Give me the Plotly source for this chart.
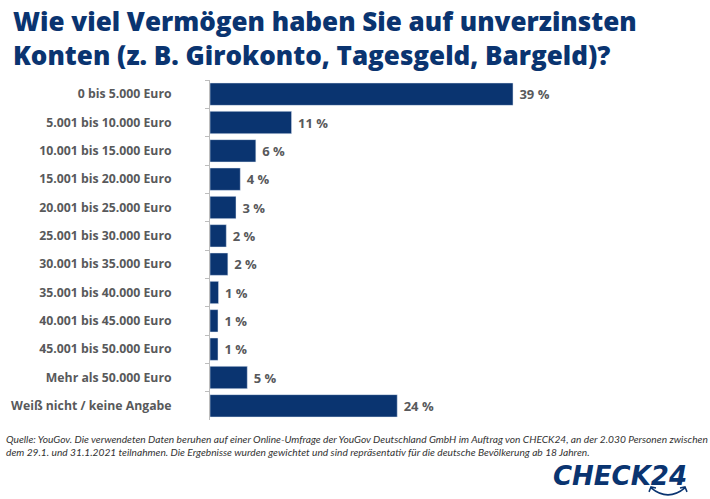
import plotly.graph_objects as go

# values
categories = ['0 bis 5.000 Euro', '5.001 bis 10.000 Euro', '10.001 bis 15.000 Euro',
              '15.001 bis 20.000 Euro', '20.001 bis 25.000 Euro', '25.001 bis 30.000 Euro',
              '30.001 bis 35.000 Euro', '35.001 bis 40.000 Euro', '40.001 bis 45.000 Euro',
              '45.001 bis 50.000 Euro', 'Mehr als 50.000 Euro', 'Weiß nicht / keine Angabe']
values = [39.0, 10.5, 5.9, 3.9, 3.35, 2.1, 2.3, 1.1, 1.03, 1.03, 4.8, 24.1]
labels = ['39 %', '11 %', '6 %', '4 %', '3 %', '2 %', '2 %', '1 %', '1 %', '1 %', '5 %', '24 %']

title = 'Wie viel Vermögen haben Sie auf unverzinsten<br>Konten (z. B. Girokonto, Tagesgeld, Bargeld)?'
source = ('Quelle: YouGov. Die verwendeten Daten beruhen auf einer Online-Umfrage der YouGov Deutschland GmbH '
          'im Auftrag von CHECK24, an der 2.030 Personen zwischen<br>dem 29.1. und 31.1.2021 teilnahmen. '
          'Die Ergebnisse wurden gewichtet und sind repräsentativ für die deutsche Bevölkerung ab 18 Jahren.')

NAVY = '#0a3470'
GREY = '#58595b'
W, H = 710, 499
LEFT, RIGHT, TOP, BOTTOM = 210, 600, 79.5, 420


def px(x):
    return (x - LEFT) / (RIGHT - LEFT)


def py(y):
    return (BOTTOM - y) / (BOTTOM - TOP)


fig = go.Figure(go.Bar(
    x=values,
    y=categories,
    orientation='h',
    marker_color=NAVY,
    width=0.79,
    text=labels,
    texttemplate='\u00a0%{text}',
    textposition='outside',
    cliponaxis=False,
    textfont=dict(family='Open Sans', size=13, color=GREY, weight='bold'),
))

fig.update_layout(
    width=W,
    height=H,
    margin=dict(l=LEFT, r=W - RIGHT, t=TOP, b=H - BOTTOM),
    paper_bgcolor='white',
    plot_bgcolor='white',
    showlegend=False,
    xaxis=dict(range=[0, (RIGHT - LEFT) / 7.77], visible=False),
    yaxis=dict(
        autorange='reversed',
        showline=True,
        linecolor='#bdbdbd',
        linewidth=1,
        ticks='outside',
        tickson='boundaries',
        ticklen=4,
        tickcolor='#bdbdbd',
        ticklabelstandoff=35,
        tickfont=dict(family='Open Sans', size=12.25, color=GREY, weight='bold'),
    ),
    font=dict(family='Open Sans'),
)

fig.add_annotation(text=title, xref='paper', yref='paper', x=px(11), y=py(0.5),
                   xanchor='left', yanchor='top', align='left', showarrow=False,
                   font=dict(family='Open Sans', size=26, color=NAVY, weight=800))
fig.add_annotation(text=source, xref='paper', yref='paper', x=px(4), y=py(431),
                   xanchor='left', yanchor='top', align='left', showarrow=False,
                   font=dict(family='Lato', size=10.2, color='#333333', style='italic'))
fig.add_annotation(text='CHECK24', xref='paper', yref='paper', x=px(551), y=py(459),
                   xanchor='left', yanchor='top', showarrow=False,
                   font=dict(family='DejaVu Sans', size=26, color=NAVY, weight='bold', style='italic'))

# smile under the 24 of the logo, with its two little arrow heads
smile = (f'M {px(651)} {py(488)} Q {px(668)} {py(502)} {px(685)} {py(488)} '
         f'M {px(649)} {py(492)} L {px(651)} {py(487)} L {px(656)} {py(488)} '
         f'M {px(680)} {py(488)} L {px(685)} {py(487)} L {px(687)} {py(492)}')
fig.add_shape(type='path', xref='paper', yref='paper', path=smile,
              line=dict(color=NAVY, width=1.5))

fig.write_html('out.html', config={'displayModeBar': False},
               post_script="document.body.style.margin='0';")
